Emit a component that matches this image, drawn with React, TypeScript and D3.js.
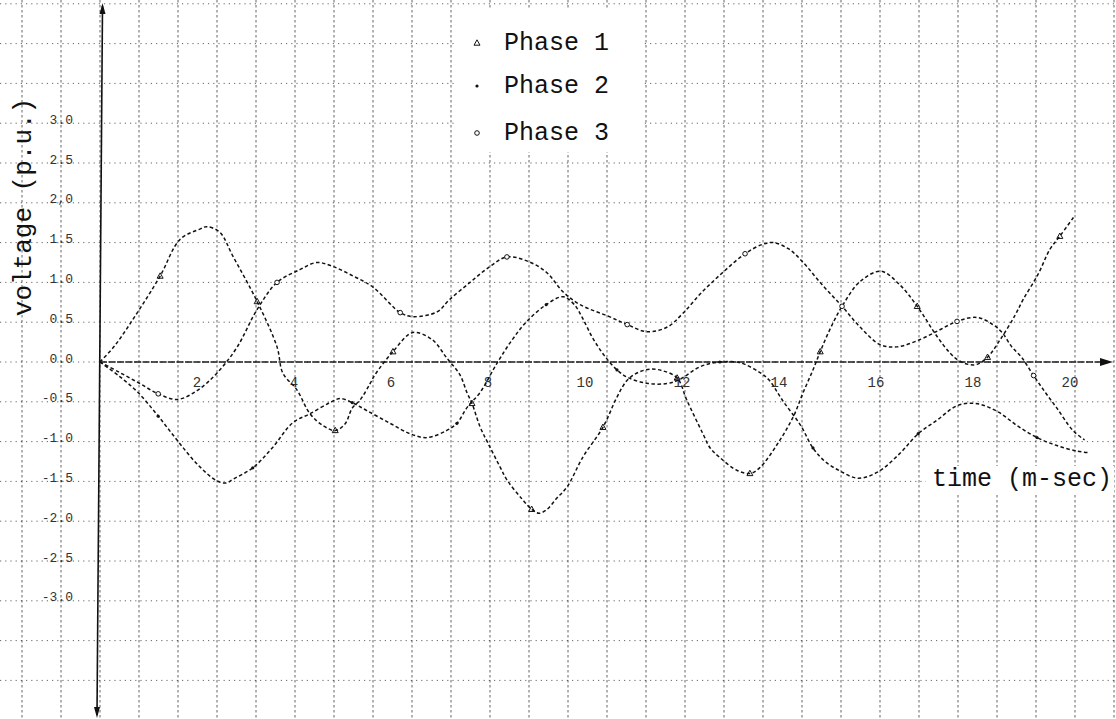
import React from 'react';
import * as d3 from 'd3';

const W = 1116;
const H = 719;

// Phase 1 (triangles)
const phase1T = [0, 0.31, 0.78, 1.24, 1.65, 2.06, 2.2, 2.47, 2.74, 3.24, 3.65, 3.77, 4.06, 4.33, 4.6, 4.85, 5.05, 5.2, 5.36, 5.57, 5.67, 6.04, 6.45, 6.85, 7.15, 7.42, 7.57, 7.67, 7.84, 8.0, 8.25, 8.39, 8.7, 8.9, 9.05, 9.2, 9.42, 9.63, 9.96, 10.37, 10.66, 10.87, 11.1, 11.35, 11.6, 11.9, 12.1, 12.43, 12.58, 12.78, 13.13, 13.4, 13.6, 14.0, 14.3, 14.5, 14.7, 14.85, 15.05, 15.3, 15.67, 16.1, 16.49, 16.85, 17.26, 17.53, 17.7, 17.9, 18.08, 18.3, 18.56, 18.87, 19.03, 19.34, 19.59, 19.79, 20.1];
const phase1V = [0, 0.21, 0.63, 1.08, 1.54, 1.67, 1.70, 1.63, 1.33, 0.76, 0.19, -0.14, -0.35, -0.65, -0.8, -0.86, -0.78, -0.58, -0.48, -0.27, -0.16, 0.13, 0.37, 0.28, 0.05, -0.16, -0.39, -0.52, -0.82, -1.02, -1.32, -1.48, -1.72, -1.85, -1.9, -1.86, -1.71, -1.57, -1.19, -0.82, -0.44, -0.23, -0.13, -0.09, -0.11, -0.2, -0.48, -0.9, -1.08, -1.2, -1.36, -1.4, -1.33, -1.0, -0.68, -0.38, -0.1, 0.13, 0.41, 0.7, 1.01, 1.14, 0.97, 0.7, 0.32, 0.11, 0.02, -0.03, -0.03, 0.06, 0.28, 0.59, 0.78, 1.1, 1.42, 1.58, 1.84];

// Phase 2 (dots)
const phase2T = [0, 0.4, 0.78, 1.2, 1.6, 2.0, 2.4, 2.6, 2.75, 3.15, 3.55, 3.98, 4.33, 4.74, 4.95, 5.2, 5.5, 5.98, 6.39, 6.74, 7.15, 7.36, 7.57, 7.84, 8.19, 8.5, 8.8, 9.2, 9.55, 9.78, 9.95, 10.16, 10.4, 10.66, 10.9, 11.3, 11.7, 11.95, 12.37, 12.78, 13.2, 13.6, 13.8, 14.07, 14.45, 14.7, 14.95, 15.26, 15.63, 16.04, 16.49, 16.87, 17.26, 17.67, 18.05, 18.5, 18.91, 19.32, 19.73, 20.15, 20.4];
const phase2V = [0, -0.18, -0.38, -0.68, -0.99, -1.28, -1.49, -1.52, -1.47, -1.33, -1.08, -0.76, -0.65, -0.51, -0.46, -0.51, -0.61, -0.77, -0.9, -0.95, -0.86, -0.77, -0.57, -0.38, -0.01, 0.28, 0.51, 0.72, 0.82, 0.72, 0.55, 0.3, 0.08, -0.1, -0.2, -0.27, -0.27, -0.22, -0.06, 0.0, -0.01, -0.13, -0.23, -0.48, -0.8, -1.08, -1.25, -1.37, -1.46, -1.38, -1.15, -0.9, -0.73, -0.55, -0.52, -0.62, -0.8, -0.95, -1.05, -1.12, -1.14];

// Phase 3 (circles)
const phase3T = [0, 0.4, 0.82, 1.2, 1.6, 2.0, 2.41, 2.82, 3.24, 3.65, 4.12, 4.47, 4.8, 5.22, 5.63, 6.19, 6.45, 6.95, 7.2, 7.63, 8.04, 8.39, 8.8, 9.2, 9.55, 9.9, 10.5, 10.87, 11.28, 11.7, 12.0, 12.4, 12.85, 13.3, 13.67, 13.9, 14.2, 14.47, 14.89, 15.3, 15.67, 16.08, 16.43, 16.9, 17.3, 17.67, 18.08, 18.41, 18.6, 18.8, 19.0, 19.25, 19.5, 19.73, 20.06, 20.3];
const phase3V = [0, -0.13, -0.27, -0.4, -0.47, -0.36, -0.14, 0.18, 0.66, 1.0, 1.16, 1.25, 1.2, 1.08, 0.94, 0.62, 0.57, 0.63, 0.78, 1.0, 1.2, 1.32, 1.27, 1.13, 0.88, 0.72, 0.57, 0.47, 0.38, 0.44, 0.6, 0.87, 1.13, 1.36, 1.48, 1.5, 1.42, 1.27, 0.97, 0.7, 0.44, 0.22, 0.19, 0.28, 0.4, 0.51, 0.56, 0.47, 0.37, 0.19, 0.06, -0.17, -0.39, -0.58, -0.86, -0.98];

const xTicks = [2, 4, 6, 8, 10, 12, 14, 16, 18, 20];
const yTicks = [3, 2.5, 2, 1.5, 1, 0.5, 0, -0.5, -1, -1.5, -2, -2.5, -3];
const yTickLabels = ['3.0', '2.5', '2,0', '1.5', '1.0', '0.5', '0.0', '-0.5', '-1.0', '-1.5', '-2.0', '-2.5', '-3.0'];
const legendLabels = ['Phase 1', 'Phase 2', 'Phase 3'];
const xTitle = 'time (m-sec)';
const yTitle = 'voltage (p.u.)';

const MONO = '"Liberation Mono", "DejaVu Sans Mono", monospace';

export default function App() {
  const x = d3.scaleLinear().domain([0, 20]).range([100, 1070]);
  const y = d3.scaleLinear().domain([0, 1]).range([362, 282.4]);
  const line = d3
    .line<[number, number]>()
    .x((d) => x(d[0]))
    .y((d) => y(d[1]))
    .curve(d3.curveCatmullRom.alpha(0.5));

  const series = [
    { t: phase1T, v: phase1V, kind: 'tri' },
    { t: phase2T, v: phase2V, kind: 'dot' },
    { t: phase3T, v: phase3V, kind: 'circ' },
  ];

  // graph paper grid (pixel pitch of the paper)
  const cell = 39;
  const vLines = d3.range(-2, 27).map((k) => 100 + cell * k);
  const hLines = d3.range(-4.5, 4.51, 0.5).map((v) => y(v));

  const marker = (kind: string, cx: number, cy: number, key: string) => {
    if (kind === 'tri') {
      return (
        <path
          key={key}
          d={`M${cx},${cy - 3.2}L${cx + 3},${cy + 2.2}L${cx - 3},${cy + 2.2}Z`}
          fill="none"
          stroke="#111"
          strokeWidth={1}
        />
      );
    }
    if (kind === 'dot') {
      return <circle key={key} cx={cx} cy={cy} r={1.6} fill="#111" />;
    }
    return <circle key={key} cx={cx} cy={cy} r={2.3} fill="#fff" stroke="#111" strokeWidth={1} />;
  };

  return (
    <svg
      width={W}
      height={H}
      viewBox={`0 0 ${W} ${H}`}
      style={{ position: 'absolute', left: 0, top: 0, background: '#fff' }}
    >
      <rect x={0} y={0} width={W} height={H} fill="#fff" />

      {/* graph paper */}
      <g>
        {hLines.map((yy, i) => (
          <line key={'h' + i} x1={0} x2={W} y1={yy} y2={yy} stroke="#555" strokeWidth={0.9} strokeDasharray="1.2,4" />
        ))}
        {vLines.map((xx, i) => (
          <line key={'v' + i} x1={xx} x2={xx} y1={0} y2={H} stroke="#333" strokeWidth={1} strokeDasharray="2.5,2.5" opacity={0.75} />
        ))}
      </g>

      {/* legend box */}
      <rect x={454} y={10} width={190} height={142} fill="#fff" />
      {legendLabels.map((lab, i) => {
        const ly = [50, 93, 140][i];
        const kind = series[i].kind;
        return (
          <g key={lab}>
            {marker(kind, 477, ly - 7, 'lm' + i)}
            <text x={504} y={ly} fontFamily={MONO} fontSize={25} fill="#111">
              {lab}
            </text>
          </g>
        );
      })}

      {/* axes */}
      <line x1={100} x2={1108} y1={362} y2={362} stroke="#1a1a1a" strokeWidth={1.6} strokeDasharray="7,1.5" />
      <path d="M1100,358 L1113,362 L1100,366 Z" fill="#111" />
      <line x1={102.5} x2={97} y1={6} y2={715} stroke="#111" strokeWidth={1.6} />
      <path d="M102.5,3 L99.5,14 L105.5,14 Z" fill="#111" />
      <path d="M97,718 L94,707 L100,707 Z" fill="#111" />

      {/* tick labels */}
      {xTicks.map((t) => (
        <text
          key={'xt' + t}
          x={x(t)}
          y={387}
          textAnchor="middle"
          fontFamily={MONO}
          fontSize={14}
          fill="#333"
        >
          {t}
        </text>
      ))}
      {yTicks.map((v, i) => (
        <text
          key={'yt' + i}
          x={73}
          y={y(v) - 3}
          textAnchor="end"
          dominantBaseline="central"
          fontFamily={MONO}
          fontSize={13}
          fill="#333"
        >
          {yTickLabels[i]}
        </text>
      ))}

      {/* curves */}
      {series.map((s, si) => {
        const pts: [number, number][] = s.t.map((tt, i) => [tt, s.v[i]]);
        return (
          <g key={'s' + si}>
            <path d={line(pts) || ''} fill="none" stroke="#111" strokeWidth={1.5} strokeDasharray="3.5,2.5" />
            {pts.filter((_, i) => i % 6 === 3).map((p, i) => marker(s.kind, x(p[0]), y(p[1]), 'm' + si + '-' + i))}
          </g>
        );
      })}

      {/* titles */}
      <rect x={926} y={466} width={188} height={28} fill="#fff" />
      <text x={1112} y={486} textAnchor="end" fontFamily={MONO} fontSize={25} fill="#111">
        {xTitle}
      </text>
      <text
        transform="translate(24,207) rotate(-90)"
        textAnchor="middle"
        dominantBaseline="central"
        fontFamily={MONO}
        fontSize={26}
        fill="#111"
      >
        {yTitle}
      </text>
    </svg>
  );
}
